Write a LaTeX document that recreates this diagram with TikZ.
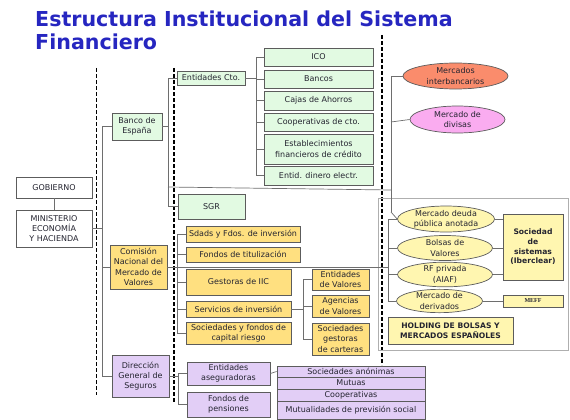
\documentclass[tikz,border=0pt]{standalone}
\usepackage{fontspec}
\setmainfont{DejaVu Sans}
\newfontfamily\meffont{Liberation Serif}
\usepackage{tikz}
\usetikzlibrary{shapes.geometric}
\definecolor{titleblue}{RGB}{38, 38, 192}
\definecolor{ink}{RGB}{36, 36, 48}
\definecolor{edge}{RGB}{92, 92, 92}
\definecolor{wiregray}{RGB}{110, 110, 110}
\definecolor{framegray}{RGB}{175, 175, 175}
\definecolor{lightgreen}{RGB}{226, 250, 226}
\definecolor{gold}{RGB}{255, 224, 128}
\definecolor{palegold}{RGB}{255, 246, 176}
\definecolor{lavender}{RGB}{226, 206, 246}
\definecolor{salmon}{RGB}{250, 140, 108}
\definecolor{orchid}{RGB}{250, 172, 240}

\begin{document}
\begin{tikzpicture}[x=1pt, y=-1pt,
  box/.style={draw=edge, line width=0.7pt, align=center, inner sep=0.5pt,
    text=ink, font=\fontsize{8}{10.3}\selectfont},
  wbox/.style={box, fill=white},
  gbox/.style={box, fill=lightgreen},
  ybox/.style={box, fill=gold},
  pbox/.style={box, fill=lavender},
  hbox/.style={box, fill=palegold, font=\bfseries\fontsize{7.6}{9.6}\selectfont},
  mkt/.style={ellipse, draw=edge, line width=0.7pt, align=center, inner sep=0pt,
    text=ink, font=\fontsize{8}{10.3}\selectfont},
  wire/.style={draw=wiregray, line width=0.7pt},
  sep/.style={line width=1.6pt, dash pattern=on 4pt off 2pt}]

  \useasboundingbox (0, 0) rectangle (570, 420);

  % title
  \node[anchor=base west, inner sep=0pt, text=titleblue,
    font=\bfseries\fontsize{20.6}{24}\selectfont] (title1) at (35, 27)
    {Estructura Institucional del Sistema};
  \node[anchor=base west, inner sep=0pt, text=titleblue,
    font=\bfseries\fontsize{20.6}{24}\selectfont] (title2) at (35, 50)
    {Financiero};

  % separators
  \draw[sep] (96.5, 68) -- (96.5, 395);
  \draw[sep] (174, 68) -- (174, 402);
  \draw[sep] (382, 35) -- (382, 365);

  \draw[framegray, line width=0.6pt] (378, 198) rectangle (568, 350);

  % buses
  \coordinate (tA) at (102, 0);
  \coordinate (tB) at (168, 0);
  \coordinate (tC) at (256, 0);
  \coordinate (tD) at (391, 0);
  \coordinate (tE) at (177, 0);
  \coordinate (tF) at (303, 0);
  \coordinate (tG) at (388, 0);
  \coordinate (tH) at (178, 0);

  % government
  \node[wbox, minimum width=76, minimum height=21] (gob) at (54, 187.5) {GOBIERNO};
  \node[wbox, minimum width=76, minimum height=37] (min) at (54, 228.5)
    {MINISTERIO\\ECONOMÍA\\Y HACIENDA};

  % banco de espana
  \node[gbox, minimum width=50, minimum height=27] (bde) at (137, 126.5) {Banco de\\España};
  \node[gbox, minimum width=68, minimum height=14] (ecto) at (211, 78) {Entidades Cto.};
  \node[gbox, minimum width=67, minimum height=25] (sgr) at (211.5, 206.5) {SGR};

  \node[gbox, minimum width=109, minimum height=18] (ico) at (318.5, 57) {ICO};
  \node[gbox, minimum width=109, minimum height=18] (ban) at (318.5, 79) {Bancos};
  \node[gbox, minimum width=109, minimum height=19] (caj) at (318.5, 100.5) {Cajas de Ahorros};
  \node[gbox, minimum width=109, minimum height=18] (coo) at (318.5, 122) {Cooperativas de cto.};
  \node[gbox, minimum width=109, minimum height=30] (est) at (318.5, 149)
    {Establecimientos\\financieros de crédito};
  \node[gbox, minimum width=109, minimum height=19] (edi) at (318.5, 175.5) {Entid. dinero electr.};

  \node[mkt, fill=salmon, minimum width=105, minimum height=26] (mint) at (455.5, 76)
    {Mercados\\interbancarios};
  \node[mkt, fill=orchid, minimum width=95, minimum height=27] (mdiv) at (457.5, 119.5)
    {Mercado de\\divisas};

  % cnmv
  \node[ybox, minimum width=57, minimum height=44] (cnmv) at (138.5, 267)
    {Comisión\\Nacional del\\Mercado de\\Valores};
  \node[ybox, minimum width=114, minimum height=16] (sdf) at (243, 234) {Sdads y Fdos. de inversión};
  \node[ybox, minimum width=114, minimum height=15] (ftit) at (243, 254.5) {Fondos de titulización};
  \node[ybox, minimum width=105, minimum height=26] (giic) at (238.5, 282) {Gestoras de IIC};
  \node[ybox, minimum width=105, minimum height=16] (sinv) at (238.5, 309) {Servicios de inversión};
  \node[ybox, minimum width=105, minimum height=22] (scr) at (238.5, 333)
    {Sociedades y fondos de\\capital riesgo};
  \node[ybox, minimum width=57, minimum height=21] (ev) at (340.5, 279.5) {Entidades\\de Valores};
  \node[ybox, minimum width=57, minimum height=22] (av) at (340.5, 306) {Agencias\\de Valores};
  \node[ybox, minimum width=57, minimum height=32] (sgc) at (340.5, 339)
    {Sociedades\\gestoras\\de carteras};

  % markets
  \node[mkt, fill=palegold, minimum width=97, minimum height=26] (mdp) at (446, 219)
    {Mercado deuda\\pública anotada};
  \node[mkt, fill=palegold, minimum width=95, minimum height=25] (bv) at (445, 248)
    {Bolsas de\\Valores};
  \node[mkt, fill=palegold, minimum width=95, minimum height=24] (rfp) at (445, 274.5)
    {RF privada\\(AIAF)};
  \node[mkt, fill=palegold, minimum width=86, minimum height=22] (mder) at (439.5, 301)
    {Mercado de\\derivados};
  \node[hbox, minimum width=60, minimum height=66] (iber) at (533, 247)
    {Sociedad\\de\\sistemas\\(Iberclear)};
  \node[hbox, minimum width=60, minimum height=12,
    font=\meffont\bfseries\fontsize{6}{7}\selectfont] (meff) at (533, 301) {MEFF};
  \node[hbox, minimum width=125, minimum height=27] (hold) at (450.5, 330.5)
    {HOLDING DE BOLSAS Y\\MERCADOS ESPAÑOLES};

  % seguros
  \node[pbox, minimum width=57, minimum height=42] (dgs) at (140.5, 376)
    {Dirección\\General de\\Seguros};
  \node[pbox, minimum width=83, minimum height=23] (aseg) at (228.5, 373.5)
    {Entidades\\aseguradoras};
  \node[pbox, minimum width=83, minimum height=25] (fpen) at (228.5, 404.5)
    {Fondos de\\pensiones};
  \node[pbox, minimum width=148, minimum height=11] (san) at (351, 371.5) {Sociedades anónimas};
  \node[pbox, minimum width=148, minimum height=12] (mut) at (351, 383) {Mutuas};
  \node[pbox, minimum width=148, minimum height=12] (coop) at (351, 395) {Cooperativas};
  \node[pbox, minimum width=148, minimum height=18] (mps) at (351, 410)
    {Mutualidades de previsión social};

  % connectors
  \draw[wire] (gob) -- (min);
  \draw[wire] (min.east) -- (min.east -| tA);
  \draw[wire] (bde.west -| tA) -- (dgs.west -| tA);
  \foreach \n in {bde, cnmv, dgs}
    \draw[wire] (\n.west -| tA) -- (\n.west);

  \draw[wire] (bde.east) -- (bde.east -| tB);
  \draw[wire] (ecto.west -| tB) -- (sgr.west -| tB);
  \foreach \n in {ecto, sgr}
    \draw[wire] (\n.west -| tB) -- (\n.west);

  \draw[wire] (ecto.east) -- (ecto.east -| tC);
  \draw[wire] (ico.west -| tC) -- (edi.west -| tC);
  \foreach \n in {ico, ban, caj, coo, est, edi}
    \draw[wire] (\n.west -| tC) -- (\n.west);

  \coordinate (bj) at (168, 187);
  \coordinate (mj) at (391, 190);
  \coordinate (dj) at (391, 212);
  \coordinate (vj) at (391, 122);
  \draw[wire] (bj) -- (mj);
  \draw[wire] (mint.west -| tD) -- (dj);
  \draw[wire] (mint.west -| tD) -- (mint.west);
  \draw[wire] (vj) -- (mdiv.west);
  \draw[wire] (dj) -- (mdp.west);

  \draw[wire] (cnmv.east) -- (cnmv.east -| tG);
  \draw[wire] (sdf.west -| tE) -- (scr.west -| tE);
  \foreach \n in {sdf, ftit, giic, sinv, scr}
    \draw[wire] (\n.west -| tE) -- (\n.west);

  \draw[wire] (sinv.east) -- (sinv.east -| tF);
  \draw[wire] (ev.west -| tF) -- (sgc.west -| tF);
  \foreach \n in {ev, av, sgc}
    \draw[wire] (\n.west -| tF) -- (\n.west);

  \draw[wire] (mdp.west -| tG) -- (mder.west -| tG);
  \foreach \n in {mdp, bv, rfp, mder}
    \draw[wire] (\n.west -| tG) -- (\n.west);
  \foreach \n in {mdp, bv, rfp}
    \draw[wire] (\n.east) -- (\n.east -| iber.west);
  \draw[wire] (mder.east) -- (meff.west);

  \draw[wire] (dgs.east) -- (dgs.east -| tH);
  \draw[wire] (aseg.west -| tH) -- (fpen.west -| tH);
  \foreach \n in {aseg, fpen}
    \draw[wire] (\n.west -| tH) -- (\n.west);
  \draw[wire] (aseg.east) -- (san.west);

\end{tikzpicture}
\end{document}
